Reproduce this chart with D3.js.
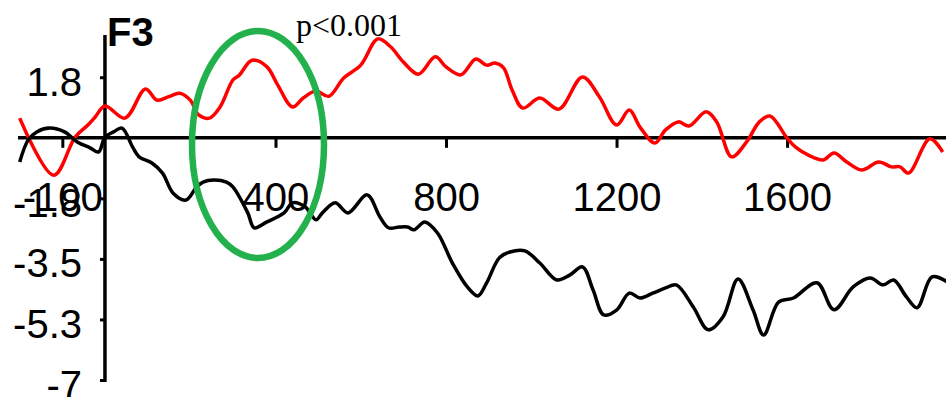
<!DOCTYPE html>
<html>
<head>
<meta charset="utf-8">
<script src="https://cdn.jsdelivr.net/npm/d3@7"></script>
<style>
  html, body { margin: 0; padding: 0; background: #fff; overflow: hidden; }
  svg { display: block; }
</style>
</head>
<body>
<svg id="chart" width="946" height="397"></svg>
<script>
// ---- data (time in ms, amplitude in µV) ----
const redTime = [-200,-120,-70,-40,-23,0,47,95,122,150,175,200,220,245,270,300,315,345,380,405,440,465,495,525,560,600,640,670,700,735,775,800,835,870,895,915,935,955,980,1020,1065,1120,1160,1200,1230,1255,1290,1315,1345,1370,1410,1435,1470,1505,1535,1560,1600,1620,1650,1685,1710,1740,1775,1815,1845,1865,1885,1935,1965];
const redValue = [0.57,-1.08,0.02,0.37,0.60,0.92,0.57,1.41,1.09,1.19,1.29,1.09,0.66,0.57,0.89,1.67,1.81,2.24,2.05,1.53,0.89,1.15,1.35,1.20,1.73,2.10,2.86,2.63,2.19,1.84,2.34,2.05,1.82,2.28,2.10,2.16,2.02,1.38,0.86,1.15,0.83,1.76,1.18,0.37,0.80,0.31,-0.15,0.23,0.46,0.34,0.75,0.46,-0.55,-0.12,0.46,0.63,-0.01,-0.27,-0.50,-0.64,-0.44,-0.70,-0.93,-0.70,-0.84,-0.84,-1.02,-0.03,-0.41];

const blackTime = [-200,-180,-160,-130,-95,-65,-35,-15,0,20,40,65,80,110,135,160,190,215,230,255,285,300,335,350,380,420,440,470,495,510,540,570,615,645,665,690,710,725,750,780,815,850,875,895,925,950,985,1020,1060,1090,1120,1145,1170,1200,1230,1255,1285,1315,1340,1380,1415,1450,1485,1520,1545,1580,1615,1670,1710,1755,1795,1825,1850,1880,1905,1940,1975];
const blackValue = [-0.70,-0.06,0.17,0.28,0.17,-0.12,-0.29,-0.41,0.02,0.17,0.28,-0.27,-0.55,-0.73,-1.02,-1.60,-1.80,-1.42,-1.28,-1.22,-1.28,-1.42,-2.17,-2.60,-2.43,-2.17,-1.88,-2.00,-2.37,-2.17,-1.88,-2.17,-1.65,-2.29,-2.60,-2.58,-2.58,-2.66,-2.43,-2.75,-3.62,-4.31,-4.57,-4.20,-3.47,-3.30,-3.27,-3.62,-4.11,-3.97,-3.73,-4.40,-5.12,-4.98,-4.49,-4.63,-4.49,-4.34,-4.25,-4.89,-5.55,-5.17,-4.08,-4.97,-5.70,-4.75,-4.63,-4.19,-4.97,-4.31,-4.05,-4.25,-4.11,-4.60,-4.91,-4.02,-4.16];

const xTickValues = [-100, 400, 800, 1200, 1600];
const xTickLabels = ["-100", "400", "800", "1200", "1600"];
const yTickValues = [1.75, -1.75, -3.5, -5.25, -7];
const yTickLabels = ["1.8", "-1.8", "-3.5", "-5.3", "-7"];
const channelLabel = "F3";
const pLabel = "p<0.001";

// ---- layout ----
const svg = d3.select("#chart");
const x = d3.scaleLinear().domain([-200, 2000]).range([19.7, 957.6]);
const y = d3.scaleLinear().domain([-7, 3]).range([380, 34]);
const font = "'Liberation Sans', Arial, sans-serif";

// x axis
const xAxisG = svg.append("g");
xAxisG.append("line")
  .attr("x1", 18).attr("x2", 946)
  .attr("y1", y(0)).attr("y2", y(0))
  .attr("stroke", "#000").attr("stroke-width", 3.5);
const xAxis = d3.axisBottom(x).tickValues(xTickValues)
  .tickFormat((d, i) => xTickLabels[i]).tickSize(10).tickPadding(0);
const gx = svg.append("g").attr("transform", `translate(0,${y(0)})`).call(xAxis);
gx.select(".domain").remove();
gx.selectAll(".tick line").attr("stroke", "#000").attr("stroke-width", 3);
gx.selectAll(".tick text")
  .attr("y", 73).attr("dy", 0)
  .attr("font-family", font).attr("font-size", 40).attr("fill", "#000");

// y axis
svg.append("line")
  .attr("x1", x(0)).attr("x2", x(0))
  .attr("y1", 35).attr("y2", 382)
  .attr("stroke", "#000").attr("stroke-width", 3.5);
const yAxis = d3.axisLeft(y).tickValues(yTickValues)
  .tickFormat((d, i) => yTickLabels[i]).tickSize(5).tickPadding(0);
const gy = svg.append("g").attr("transform", `translate(${x(0)},0)`).call(yAxis);
gy.select(".domain").remove();
gy.selectAll(".tick line").attr("stroke", "#000").attr("stroke-width", 3);
gy.selectAll(".tick text")
  .attr("x", 82 - x(0)).attr("dy", 0).attr("y", 18)
  .attr("text-anchor", "end")
  .attr("font-family", font).attr("font-size", 40).attr("fill", "#000");

// lines
const line = d3.line().x(d => x(d[0])).y(d => y(d[1])).curve(d3.curveCatmullRom.alpha(0.5));
const redData = redTime.map((t, i) => [t, redValue[i]]);
const blackData = blackTime.map((t, i) => [t, blackValue[i]]);
svg.append("path").datum(redData).attr("d", line)
  .attr("fill", "none").attr("stroke", "#ff0000").attr("stroke-width", 3.5)
  .attr("stroke-linejoin", "round");
svg.append("path").datum(blackData).attr("d", line)
  .attr("fill", "none").attr("stroke", "#000").attr("stroke-width", 3.5)
  .attr("stroke-linejoin", "round");

// labels
svg.append("text").text(channelLabel)
  .attr("x", 107).attr("y", 46)
  .attr("font-family", font).attr("font-weight", "bold").attr("font-size", 40).attr("fill", "#000");
svg.append("text").text(pLabel)
  .attr("x", 296).attr("y", 36)
  .attr("font-family", "'Liberation Serif', 'Times New Roman', serif").attr("font-size", 32).attr("fill", "#000");

// highlight ellipse
svg.append("ellipse")
  .attr("cx", 258).attr("cy", 144.5).attr("rx", 66).attr("ry", 113.5)
  .attr("fill", "none").attr("stroke", "#22b14c").attr("stroke-width", 6.5);
</script>
</body>
</html>
